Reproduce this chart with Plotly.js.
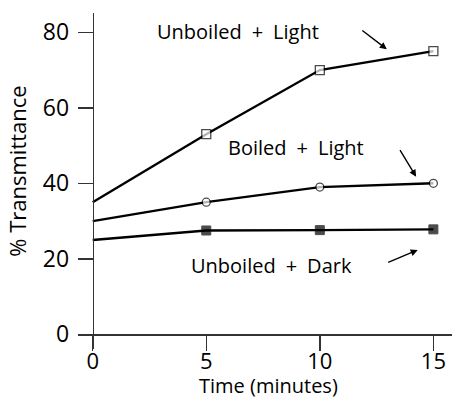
<!DOCTYPE html>
<html>
<head>
<meta charset="utf-8">
<script src="https://cdn.plot.ly/plotly-3.0.1.min.js"></script>
<style>html,body{margin:0;padding:0;background:#fff;}#chart{width:452px;height:400px;}</style>
</head>
<body>
<div id="chart"></div>
<script>
const time = [0, 5, 10, 15];
const unboiledLight = [35, 53, 70, 75];
const boiledLight = [30, 35, 39, 40];
const unboiledDark = [25, 27.5, 27.6, 27.8];
const xTicks = [0, 5, 10, 15];
const yTicks = [0, 20, 40, 60, 80];
const seriesNames = ['Unboiled\u2002+\u2002Light', 'Boiled\u2002+\u2002Light', 'Unboiled\u2002+\u2002Dark'];
const xTitle = 'Time (minutes)';
const yTitle = '% Transmittance';

const FONT = '"Open Sans", "Noto Sans", sans-serif';
const X_RANGE = [-0.647, 15.82];
const X_POS = 0.04375;

const traces = [
  {x: time, y: unboiledLight, name: 'Unboiled + Light', mode: 'lines+markers',
   line: {color: '#000', width: 2.4},
   marker: {symbol: 'square', size: [0, 9, 9, 9], color: '#fff', line: {color: '#000', width: 1.3}}},
  {x: time, y: boiledLight, name: 'Boiled + Light', mode: 'lines+markers',
   line: {color: '#000', width: 2.4},
   marker: {symbol: 'circle', size: [0, 8, 8, 8], color: '#fff', line: {color: '#000', width: 1.3}}},
  {x: time, y: unboiledDark, name: 'Unboiled + Dark', mode: 'lines+markers',
   line: {color: '#000', width: 2.4},
   marker: {symbol: 'square', size: [0, 9, 9, 9], color: '#000', line: {color: '#000', width: 1}}},
  // empty trace so the label-carrying overlay axis is drawn
  {x: [], y: [], xaxis: 'x2', yaxis: 'y', mode: 'markers', hoverinfo: 'skip', showlegend: false}
];

const layout = {
  width: 452, height: 400,
  margin: {l: 78, r: 0, t: 13, b: 51, pad: 0},
  paper_bgcolor: '#fff', plot_bgcolor: '#fff',
  showlegend: false,
  font: {family: FONT, color: '#000', size: 20},
  xaxis: {
    range: X_RANGE, tickvals: xTicks, showticklabels: false,
    anchor: 'free', position: X_POS,
    showline: true, linecolor: '#333', linewidth: 1.5,
    ticks: 'outside', ticklen: 15, tickwidth: 1.5, tickcolor: '#333',
    showgrid: false, zeroline: false
  },
  xaxis2: {
    overlaying: 'x', range: X_RANGE, tickvals: xTicks, ticktext: xTicks.map(String),
    anchor: 'free', position: X_POS, side: 'bottom',
    showline: false, showgrid: false, zeroline: false,
    ticks: 'outside', ticklen: 7, tickwidth: 1, tickcolor: 'rgba(0,0,0,0)',
    tickfont: {family: FONT, size: 22, color: '#000'}
  },
  yaxis: {
    range: [-3.89, 85.11], tickvals: yTicks, ticktext: yTicks.map(String),
    anchor: 'free', position: 0.0393,
    showline: true, linecolor: '#333', linewidth: 1.5,
    ticks: 'outside', ticklen: 15, tickwidth: 1.5, tickcolor: '#333',
    showgrid: false, zeroline: false,
    tickfont: {family: FONT, size: 23, color: '#000'},
    ticklabelstandoff: 4
  },
  annotations: [
    {xref: 'paper', yref: 'paper', x: -0.163, y: 0.5 + (181 - 171.7) / 336, text: yTitle,
     textangle: -90, showarrow: false, font: {family: FONT, size: 22, color: '#000'}, xanchor: 'center', yanchor: 'middle'},
    {xref: 'paper', yref: 'paper', x: (268.3 - 78) / 374, y: (349 - 400) / 336, text: xTitle, borderpad: 0,
     showarrow: false, font: {family: FONT, size: 20, color: '#000'}, xanchor: 'center', yanchor: 'bottom'},
    {x: 6.41, y: 80.3, text: seriesNames[0], showarrow: false, font: {family: FONT, size: 20}},
    {x: 8.94, y: 49.5, text: seriesNames[1], showarrow: false, font: {family: FONT, size: 20}},
    {x: 7.87, y: 18.2, text: seriesNames[2], showarrow: false, font: {family: FONT, size: 20}},
    {x: 12.95, y: 75.5, ax: -26, ay: -20, text: '', showarrow: true, arrowhead: 2, arrowsize: 1, arrowwidth: 1.4, arrowcolor: '#000'},
    {x: 14.24, y: 41.75, ax: -17, ay: -28, text: '', showarrow: true, arrowhead: 2, arrowsize: 1, arrowwidth: 1.4, arrowcolor: '#000'},
    {x: 14.31, y: 22.33, ax: -31, ay: 13, text: '', showarrow: true, arrowhead: 2, arrowsize: 1, arrowwidth: 1.4, arrowcolor: '#000'}
  ]
};

Plotly.newPlot('chart', traces, layout, {displayModeBar: false, staticPlot: true});
</script>
</body>
</html>
